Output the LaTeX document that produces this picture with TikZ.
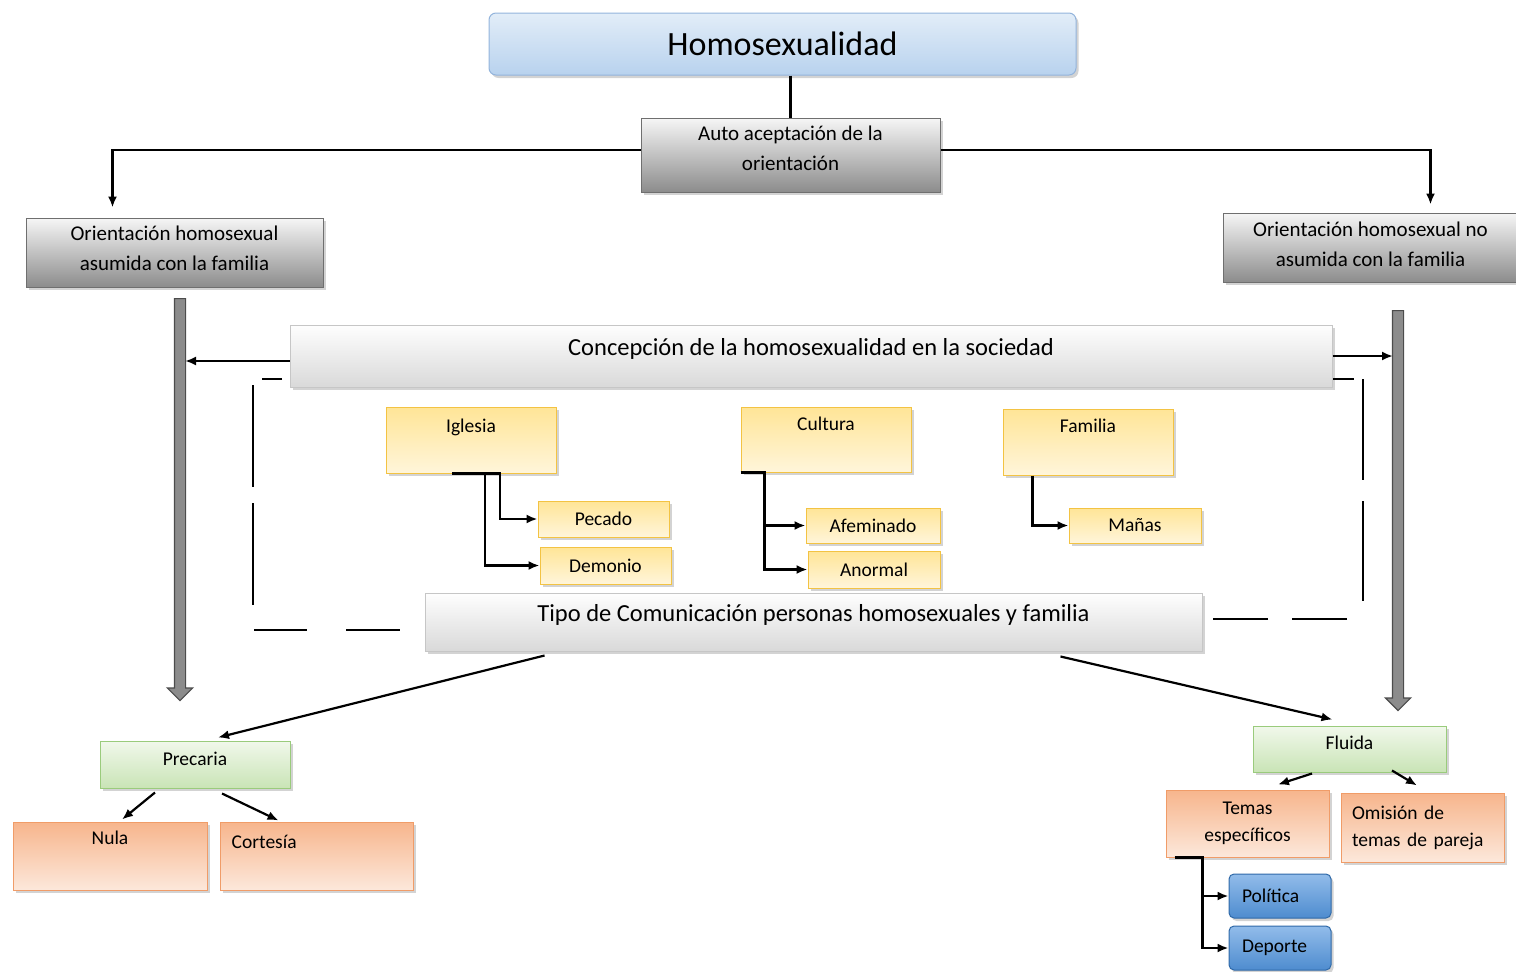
\documentclass[tikz,border=0pt]{standalone}
\usepackage{fontspec}
\setmainfont{Carlito}
\usetikzlibrary{shapes,arrows,arrows.meta,shadows,positioning,calc}

\definecolor{bluetop}{HTML}{E2EDF8}
\definecolor{bluebot}{HTML}{B8D2EE}
\definecolor{bluedraw}{HTML}{93B4DC}
\definecolor{graytop}{HTML}{F6F6F6}
\definecolor{graybot}{HTML}{8C8C8C}
\definecolor{graydraw}{HTML}{6F6F6F}
\definecolor{lgraytop}{HTML}{FEFEFE}
\definecolor{lgraybot}{HTML}{D9D9D9}
\definecolor{lgraydraw}{HTML}{C6C6C6}
\definecolor{yeltop}{HTML}{FFE597}
\definecolor{yelbot}{HTML}{FFF5DA}
\definecolor{yeldraw}{HTML}{F3C343}
\definecolor{grntop}{HTML}{F1F8EB}
\definecolor{grnbot}{HTML}{C9E4B6}
\definecolor{grndraw}{HTML}{9ACB7C}
\definecolor{orgtop}{HTML}{F7B58C}
\definecolor{orgbot}{HTML}{FCE8DB}
\definecolor{orgdraw}{HTML}{F09C68}
\definecolor{btntop}{HTML}{92BCEA}
\definecolor{btnbot}{HTML}{4E8CCF}
\definecolor{btndraw}{HTML}{2F69A8}

\begin{document}
\begin{tikzpicture}[x=1pt,y=-1pt,>={Latex[length=11pt,width=9pt]},
  every node/.style={font=\fontsize{19.5}{30}\selectfont},
  size/.style 2 args={minimum width=#1pt, minimum height=#2pt},
  box/.style={draw, line width=1pt, inner sep=4pt, align=center,
    drop shadow={shadow xshift=2.5pt, shadow yshift=-3pt, opacity=.35}},
  titlebox/.style={box, rounded corners=7pt, draw=bluedraw,
    top color=bluetop, bottom color=bluebot, font=\fontsize{34}{40}\selectfont},
  graybox/.style={box, draw=graydraw, top color=graytop, bottom color=graybot,
    font=\fontsize{21}{30}\selectfont},
  barbox/.style={box, draw=lgraydraw, top color=lgraytop, bottom color=lgraybot,
    font=\fontsize{24.5}{28}\selectfont, text depth=18pt},
  ybox/.style={box, draw=yeldraw, top color=yeltop, bottom color=yelbot},
  gbox/.style={box, draw=grndraw, top color=grntop, bottom color=grnbot},
  obox/.style={box, draw=orgdraw, top color=orgtop, bottom color=orgbot,
    font=\fontsize{19.5}{27}\selectfont},
  bbox/.style={box, rounded corners=5pt, draw=btndraw, top color=btntop,
    bottom color=btnbot, text width=76pt, align=left, inner xsep=13pt},
  toptxt/.style={anchor=north, inner sep=0pt, yshift=-#1pt},
  bar/.style={single arrow, draw=black!70, line width=1.2pt, fill=black!45,
    single arrow head extend=7pt, single arrow tip angle=90,
    inner sep=5pt, anchor=tail, rotate=-90},
  conn/.style={line width=2.2pt},
  brk/.style={line width=2pt}]

\useasboundingbox (0,0) rectangle (1516,972);

% top of the tree
\node[titlebox, size={587}{62}] (homo) at (782.5,44) {Homosexualidad};
\node[graybox, size={299}{74}, text depth=14pt] (auto) at (790.5,155)
  {Auto aceptación de la\\orientación};
\node[graybox, size={297}{69}, text depth=8pt] (asum) at (174.5,252.5)
  {Orientación homosexual\\asumida con la familia};
\node[graybox, size={295}{69}, text depth=6pt] (noasum) at (1370.5,247.5)
  {Orientación homosexual no\\asumida con la familia};

\draw[conn] (auto.north |- homo.south) -- (auto.north);
\draw[conn,->,shorten >=10pt] ($(auto.west)+(0,-5)$) -| ($(asum.north)+(-62,0)$);
\draw[conn,->,shorten >=8pt] ($(auto.east)+(0,-5)$) -| ($(noasum.north)+(60,0)$);

% thick arrows
\node[bar, minimum height=402pt] (lbar) at (180,298) {};
\node[bar, minimum height=400pt] (rbar) at (1398,310) {};

% society
\node[barbox, size={1042}{62}] (concep) at (811,356)
  {Concepción de la homosexualidad en la sociedad};
\draw[conn,->,shorten >=5pt] ($(concep.west)+(0,5)$) -- ($(concep.west -| lbar.center)+(0,5)$);
\draw[conn,->,shorten >=5pt] (concep.east) -- (concep.east -| rbar.center);

\node[ybox, size={170}{66}, label={[toptxt=12]north:Iglesia}] (iglesia) at (471,440) {};
\node[ybox, size={170}{65}, label={[toptxt=10]north:Cultura}] (cultura) at (826,439.5) {};
\node[ybox, size={170}{66}, label={[toptxt=10]north:Familia}] (familia) at (1088,442) {};

\node[ybox, size={131}{36}] (pecado) at (603.5,519) {Pecado};
\node[ybox, size={131}{37}] (demonio) at (605.5,565.5) {Demonio};
\node[ybox, size={134}{35}] (afem) at (873,525.5) {Afeminado};
\node[ybox, size={132}{37}] (anormal) at (874,569.5) {Anormal};
\node[ybox, size={132}{35}] (manas) at (1135,525.5) {Mañas};

\draw[conn,->] ([xshift=-19pt]iglesia.south) -- ([xshift=29pt]iglesia.south) |- (pecado.west);
\draw[conn,->] ([xshift=14pt]iglesia.south) |- (demonio.west);
\draw[conn,->] (cultura.south west) -- ++(24,0) |- (afem.west);
\draw[conn,->] ([xshift=24pt]cultura.south west) |- (anormal.west);
\draw[conn,->] ([xshift=30pt]familia.south west) |- (manas.west);

\node[barbox, size={777}{58}] (tipo) at (813.5,622)
  {Tipo de Comunicación personas homosexuales y familia};

% dashed brackets
\draw[brk, dash pattern=on 20pt off 15pt on 102pt off 16pt on 102pt off 26pt on 53pt off 39pt on 54pt off 100pt]
  (282,379) -- (253,379) -- (253,630) -- (400,630);
\draw[brk, dash pattern=on 21pt off 9pt on 101pt off 21pt on 100pt off 34pt on 55pt off 24pt on 55pt off 50pt]
  (1333,379) -- (1363,379) -- (1363,619) -- (1213,619);

% communication
\node[gbox, size={190}{47}, text depth=12pt] (precaria) at (195,764.5) {Precaria};
\node[gbox, size={193}{46}, text depth=12pt] (fluida) at (1349.5,749) {Fluida};
\draw[conn,->] ($(tipo.south west)+(120,4)$) -- ($(precaria.north)+(23,-3)$);
\draw[conn,->] ($(tipo.south east)+(-142,5)$) -- ($(fluida.north)+(-17,-6)$);

\node[obox, size={194}{68}, label={[toptxt=9]north:Nula}] (nula) at (110,856) {};
\node[obox, size={193}{68}, label={[anchor=north west, inner sep=0pt, xshift=12pt, yshift=-13pt]north west:Cortesía}] (cortesia) at (316.5,856) {};
\draw[conn,->] ($(precaria.south)+(-40,4)$) -- ($(nula.north)+(12,-2)$);
\draw[conn,->] ($(precaria.south)+(27,5)$) -- ($(cortesia.north)+(-38,-1)$);

\node[obox, size={163}{67}] (temas) at (1247.5,823.5) {Temas\\específicos};
\node[obox, size={163}{69}, text width=141pt, align=left, inner xsep=11pt] (omision) at (1422.5,827.5)
  {Omisión de\\temas de pareja};
\draw[conn,->] ($(fluida.south)+(-37.5,1)$) -- ($(temas.north)+(30.5,-5)$);
\draw[conn,->] ($(fluida.south)+(42.5,-2)$) -- ($(omision.north)+(-5.5,-7)$);

\node[bbox, size={102}{44}] (politica) at (1280,896) {Política};
\node[bbox, size={102}{44}] (deporte) at (1280,948) {Deporte};
\draw[conn,->] ([xshift=9pt]temas.south west) -- ++(28,0) |- (politica.west);
\draw[conn,->] ([xshift=37pt]temas.south west) |- (deporte.west);
\end{tikzpicture}
\end{document}
